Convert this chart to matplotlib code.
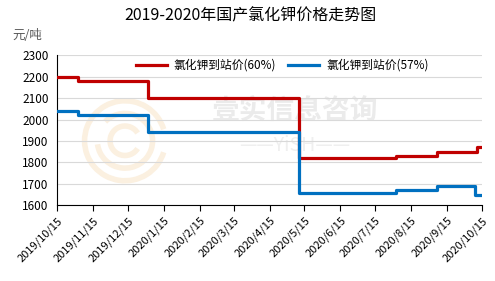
import numpy as np
import pandas as pd
import matplotlib
matplotlib.use("Agg")
import matplotlib.pyplot as plt
from matplotlib.patches import Arc

plt.rcParams["font.family"] = ["Noto Sans CJK SC", "DejaVu Sans"]

RED = "#C00000"
BLUE = "#0070C0"

# step change dates and price levels
red_dates = ["2019-10-15", "2019-11-02", "2020-01-01", "2020-05-10",
             "2020-08-02", "2020-09-06", "2020-10-11", "2020-10-15"]
red_vals = [2200, 2180, 2100, 1820, 1830, 1850, 1870, 1870]
blue_dates = ["2019-10-15", "2019-11-02", "2020-01-01", "2020-05-10",
              "2020-08-02", "2020-09-06", "2020-10-09", "2020-10-15"]
blue_vals = [2040, 2020, 1940, 1660, 1670, 1690, 1650, 1650]

tick_dates = pd.date_range("2019-10-01", "2020-10-01", freq="MS") + pd.Timedelta(days=14)
tick_labels = [f"{d.year}/{d.month}/15" for d in tick_dates]

fig = plt.figure(figsize=(4.95, 2.81), dpi=100)
ax = fig.add_axes([0.115, 0.269, 0.859, 0.535])

# faint logo + watermark
for r, a1, a2 in [(0.19, 40, 320), (0.13, 200, 470), (0.07, 60, 300)]:
    ax.add_patch(Arc((0.16, 0.43), r, r * 2.8, theta1=a1, theta2=a2,
                     transform=ax.transAxes, color="#fbf0e0", lw=4, zorder=1))
ax.text(0.56, 0.62, "壹实信息咨询", transform=ax.transAxes, fontsize=20,
        color="#ebebeb", ha="center", va="center", fontweight="bold", zorder=1)
ax.text(0.56, 0.40, "——YiSH——", transform=ax.transAxes, fontsize=14,
        color="#efefef", ha="center", va="center", zorder=1)

ax.plot(pd.to_datetime(red_dates), red_vals, drawstyle="steps-post",
        color=RED, lw=2.3, label="氯化钾到站价(60%)", zorder=3)
ax.plot(pd.to_datetime(blue_dates), blue_vals, drawstyle="steps-post",
        color=BLUE, lw=2.3, label="氯化钾到站价(57%)", zorder=3)

ax.set_xlim(pd.Timestamp("2019-10-15"), pd.Timestamp("2020-10-15"))
ax.set_ylim(1600, 2300)
ax.set_yticks(np.arange(1600, 2301, 100))
ax.set_xticks(tick_dates)
ax.set_xticklabels(tick_labels, rotation=45, ha="right", rotation_mode="anchor",
                   fontsize=8)
ax.tick_params(axis="y", labelsize=8.5, length=0, pad=6)
ax.tick_params(axis="x", length=4, direction="out", pad=3)
ax.grid(axis="y", color="#d9d9d9", lw=0.8, zorder=0)
for s in ["top", "right"]:
    ax.spines[s].set_visible(False)

ax.legend(loc="upper center", bbox_to_anchor=(0.53, 1.045), ncol=2,
          frameon=False, fontsize=8.5, handlelength=2.6, columnspacing=1.0,
          handletextpad=0.6)

fig.text(0.505, 0.945, "2019-2020年国产氯化钾价格走势图", ha="center",
         va="center", fontsize=11.5)
fig.text(0.025, 0.875, "元/吨", ha="left", va="center", fontsize=9,
         color="#595959")

fig.savefig("out.png", dpi=100)
